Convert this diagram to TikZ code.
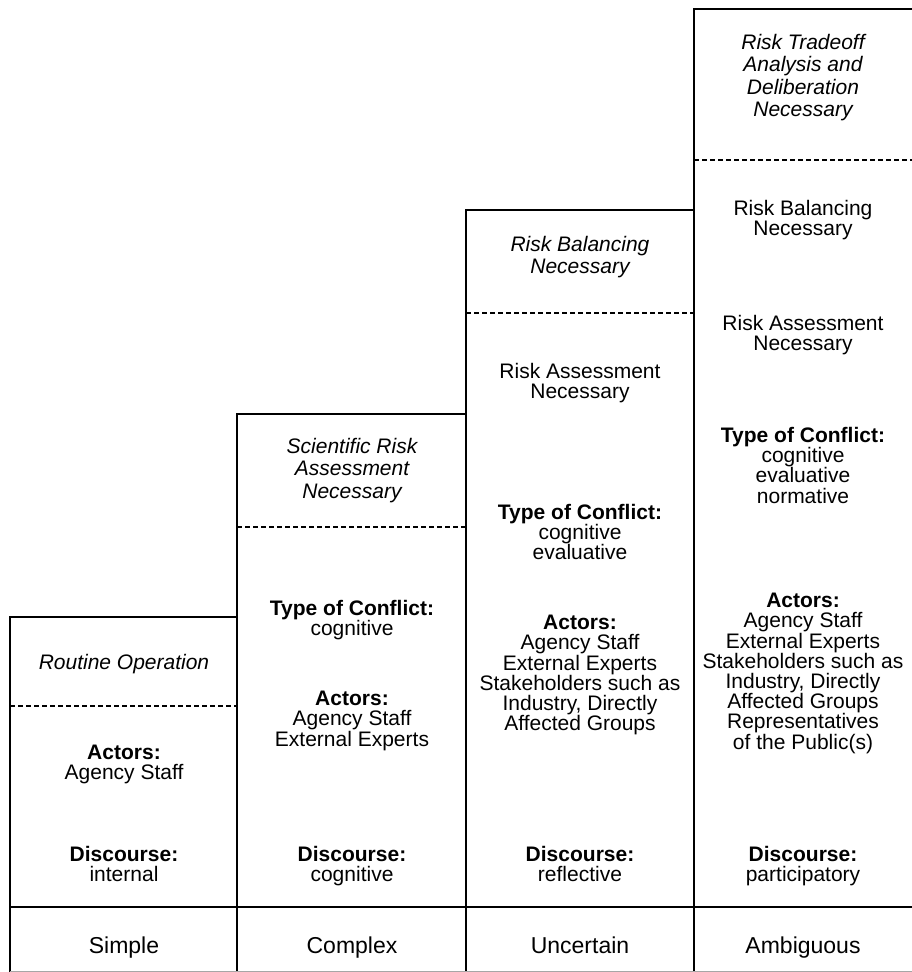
\documentclass[tikz,border=0pt]{standalone}
\usepackage{fontspec}
\setmainfont{Liberation Sans}
\begin{document}
\begin{tikzpicture}[x=1pt,y=-1pt,
  box/.style={line width=1.5pt},
  sep/.style={line width=1.2pt, dash pattern=on 5pt off 3pt},
  txt/.style={align=center, anchor=north, font=\fontsize{21}{20.2}\selectfont, inner sep=0pt},
  ital/.style={align=center, anchor=north, font=\fontsize{21}{22.5}\selectfont\itshape, inner sep=0pt},
  lab/.style={anchor=base, font=\fontsize{23}{26}\selectfont, inner sep=0pt}]
\useasboundingbox (0,0) rectangle (912,972);
% column outlines
\draw[box] (10,972) -- (10,617) -- (237,617);
\draw[box] (237,972) -- (237,414) -- (466,414);
\draw[box] (466,972) -- (466,210) -- (694,210);
\draw[box] (694,972) -- (694,9) -- (913,9);
\draw[box] (237,617) -- (237,414);
\draw[box] (466,414) -- (466,210);
\draw[box] (694,210) -- (694,9);
\draw[box] (10,907) -- (913,907);
\draw[line width=0.6pt, black!35] (10,971.5) -- (913,971.5);
% dashed separators
\draw[sep] (10,706) -- (237,706);
\draw[sep] (237,527) -- (466,527);
\draw[sep] (466,313) -- (694,313);
\draw[sep] (694,160) -- (913,160);
% column 1
\node[ital] (c1a) at (124,654) {Routine Operation};
\node[txt] (c1b) at (124,745) {\textbf{Actors:}\\Agency Staff};
\node[txt] (c1c) at (124,846) {\textbf{Discourse:}\\internal};
\node[lab] (c1d) at (124,953) {Simple};
% column 2
\node[ital] (c2a) at (352,438) {Scientific Risk\\Assessment\\Necessary};
\node[txt] (c2b) at (352,600) {\textbf{Type of Conflict:}\\cognitive};
\node[txt] (c2c) at (352,691) {\textbf{Actors:}\\Agency Staff\\External Experts};
\node[txt] (c2d) at (352,846) {\textbf{Discourse:}\\cognitive};
\node[lab] (c2e) at (352,953) {Complex};
% column 3
\node[ital] (c3a) at (580,236) {Risk Balancing\\Necessary};
\node[txt] (c3b) at (580,363) {Risk Assessment\\Necessary};
\node[txt] (c3c) at (580,504) {\textbf{Type of Conflict:}\\cognitive\\evaluative};
\node[txt] (c3d) at (580,615) {\textbf{Actors:}\\Agency Staff\\External Experts\\Stakeholders such as\\Industry, Directly\\Affected Groups};
\node[txt] (c3e) at (580,846) {\textbf{Discourse:}\\reflective};
\node[lab] (c3f) at (580,953) {Uncertain};
% column 4
\node[ital] (c4a) at (803,34) {Risk Tradeoff\\Analysis and\\Deliberation\\Necessary};
\node[txt] (c4b) at (803,200) {Risk Balancing\\Necessary};
\node[txt] (c4c) at (803,315) {Risk Assessment\\Necessary};
\node[txt] (c4d) at (803,427) {\textbf{Type of Conflict:}\\cognitive\\evaluative\\normative};
\node[txt] (c4e) at (803,593) {\textbf{Actors:}\\Agency Staff\\External Experts\\Stakeholders such as\\Industry, Directly\\Affected Groups\\Representatives\\of the Public(s)};
\node[txt] (c4f) at (803,846) {\textbf{Discourse:}\\participatory};
\node[lab] (c4g) at (803,953) {Ambiguous};
\end{tikzpicture}
\end{document}
